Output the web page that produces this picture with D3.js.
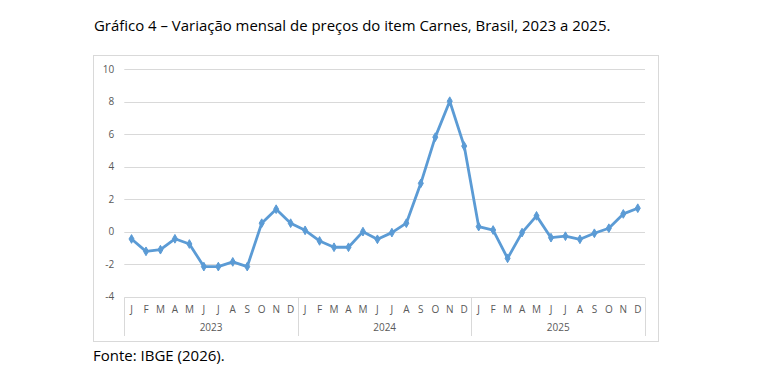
<!DOCTYPE html>
<html><head><meta charset="utf-8">
<script src="https://cdn.jsdelivr.net/npm/d3@7"></script>
<style>
body{margin:0;background:#fff;}
svg{display:block;font-family:"Open Sans",sans-serif;}
</style></head>
<body>
<svg id="c" width="760" height="375"></svg>
<script>
const years = ["2023","2024","2025"];
const months = ["J","F","M","A","M","J","J","A","S","O","N","D"];
const values2023 = [-0.45,-1.21,-1.11,-0.44,-0.76,-2.15,-2.15,-1.86,-2.15,0.52,1.38,0.52];
const values2024 = [0.08,-0.57,-0.96,-0.96,0.00,-0.47,-0.06,0.52,2.97,5.81,8.02,5.26];
const values2025 = [0.31,0.10,-1.64,-0.06,0.97,-0.37,-0.28,-0.47,-0.10,0.21,1.09,1.44];
const yTicks = [-4,-2,0,2,4,6,8,10];
const titleText = "Gráfico 4 – Variação mensal de preços do item Carnes, Brasil, 2023 a 2025.";
const sourceText = "Fonte: IBGE (2026).";

const data = [];
[values2023, values2024, values2025].forEach((arr, yi) => {
  arr.forEach((v, mi) => data.push({key: years[yi] + "-" + mi, year: years[yi], month: months[mi], value: v}));
});

const svg = d3.select("#c");
const pLeft = 124.3, pRight = 645, pTop = 69, pBottom = 296.7;

svg.append("text").attr("x", 94).attr("y", 31).attr("font-size", 14.95).attr("fill", "#000").text(titleText);
svg.append("rect").attr("x", 93.5).attr("y", 55.5).attr("width", 565).attr("height", 286)
  .attr("fill", "#fff").attr("stroke", "#d9d9d9").attr("stroke-width", 1);
svg.append("text").attr("x", 93).attr("y", 361).attr("font-size", 15).attr("fill", "#000").text(sourceText);

const x = d3.scaleBand().domain(data.map(d => d.key)).range([pLeft, pRight]).paddingInner(0).paddingOuter(0);
const y = d3.scaleLinear().domain([-4, 10]).range([pBottom, pTop]);

// gridlines
svg.append("g").selectAll("line").data(yTicks.filter(t => t > -4)).join("line")
  .attr("x1", pLeft).attr("x2", pRight)
  .attr("y1", d => Math.round(y(d)) + 0.5).attr("y2", d => Math.round(y(d)) + 0.5)
  .attr("stroke", "#d9d9d9").attr("stroke-width", 1);

// y axis labels
const yAxis = d3.axisLeft(y).tickValues(yTicks).tickFormat(d => String(d)).tickSize(0).tickPadding(10);
const ya = svg.append("g").attr("transform", `translate(${pLeft},0)`).call(yAxis);
ya.select(".domain").remove();
ya.selectAll("text").attr("font-size", 10).attr("fill", "#595959").attr("font-family", "Open Sans, sans-serif");

// category axis
const bx = Math.round(pBottom) + 0.5;
svg.append("line").attr("x1", pLeft).attr("x2", pRight).attr("y1", bx).attr("y2", bx)
  .attr("stroke", "#d9d9d9");
const xAxis = d3.axisBottom(x).tickFormat(k => data.find(d => d.key === k).month).tickSize(0).tickPadding(8);
const xa = svg.append("g").attr("transform", `translate(0,${bx})`).call(xAxis);
xa.select(".domain").remove();
xa.selectAll("text").attr("font-size", 10).attr("fill", "#595959").attr("font-family", "Open Sans, sans-serif");

// year groups
const seps = years.map(yr => x(yr + "-0")).concat([pRight]);
svg.append("g").selectAll("line").data(seps).join("line")
  .attr("x1", d => Math.round(d) + 0.5).attr("x2", d => Math.round(d) + 0.5)
  .attr("y1", bx).attr("y2", 336).attr("stroke", "#d9d9d9");
svg.append("g").selectAll("text").data(years).join("text")
  .attr("x", yr => (x(yr + "-0") + x(yr + "-11") + x.bandwidth()) / 2)
  .attr("y", 331).attr("text-anchor", "middle").attr("font-size", 10).attr("fill", "#595959")
  .text(d => d);

// line
const cx = d => x(d.key) + x.bandwidth() / 2;
svg.append("path").datum(data)
  .attr("d", d3.line().x(cx).y(d => y(d.value)))
  .attr("fill", "none").attr("stroke", "#5b9bd5").attr("stroke-width", 2.8).attr("stroke-linejoin", "round");
svg.append("g").selectAll("path").data(data).join("path")
  .attr("d", d3.symbol(d3.symbolDiamond, 22))
  .attr("transform", d => `translate(${cx(d)},${y(d.value)})`)
  .attr("fill", "#5b9bd5").attr("stroke", "#5b9bd5").attr("stroke-width", 1);
</script>
</body></html>
